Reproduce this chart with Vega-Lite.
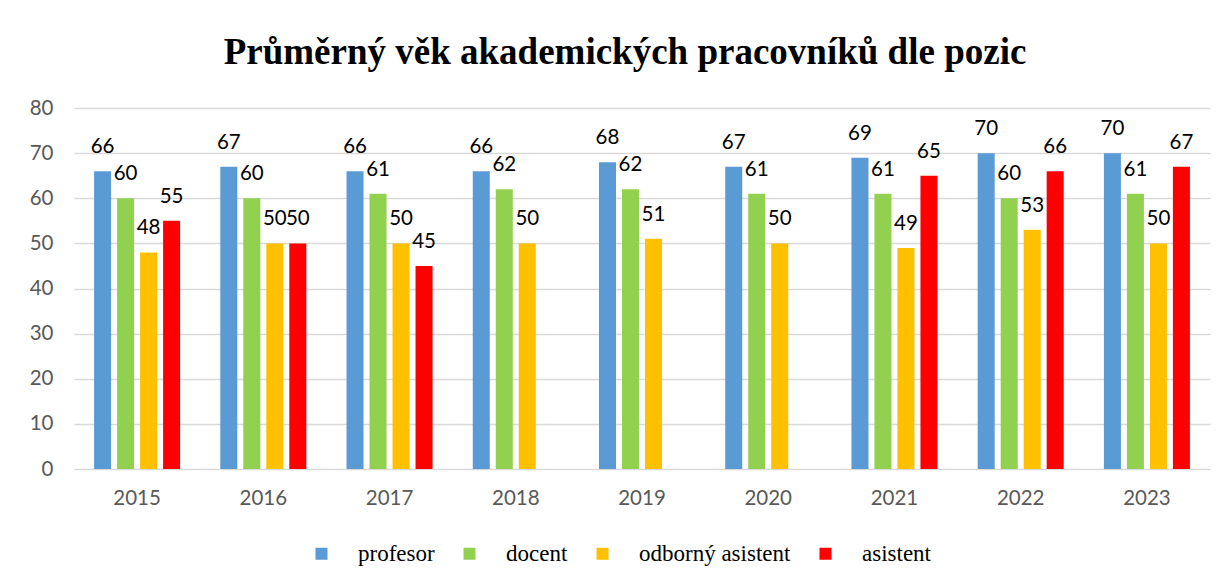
{
  "$schema": "https://vega.github.io/schema/vega-lite/v6.json",
  "width": 1136,
  "height": 361,
  "autosize": {"type": "none"},
  "padding": {"left": 74, "top": 108, "right": 18, "bottom": 113},
  "background": "white",
  "title": {
    "text": "Průměrný věk akademických pracovníků dle pozic",
    "font": "Liberation Serif",
    "fontSize": 37,
    "fontWeight": "bold",
    "color": "#000000",
    "anchor": "middle",
    "dx": -17,
    "offset": 26
  },
  "config": {
    "view": {"stroke": null},
    "axis": {"labelFont": "Lato", "labelColor": "#595959", "labelFontSize": 20.5},
    "legend": {"labelFont": "Liberation Serif", "labelFontSize": 23, "labelColor": "#000000"},
    "text": {"font": "Lato", "fontSize": 20.5, "color": "#000000"}
  },
  "data": {
    "values": [
      {"rok": "2015", "pozice": "profesor", "vek": 66},
      {"rok": "2015", "pozice": "docent", "vek": 60},
      {"rok": "2015", "pozice": "odborný asistent", "vek": 48},
      {"rok": "2015", "pozice": "asistent", "vek": 55},
      {"rok": "2016", "pozice": "profesor", "vek": 67},
      {"rok": "2016", "pozice": "docent", "vek": 60},
      {"rok": "2016", "pozice": "odborný asistent", "vek": 50},
      {"rok": "2016", "pozice": "asistent", "vek": 50},
      {"rok": "2017", "pozice": "profesor", "vek": 66},
      {"rok": "2017", "pozice": "docent", "vek": 61},
      {"rok": "2017", "pozice": "odborný asistent", "vek": 50},
      {"rok": "2017", "pozice": "asistent", "vek": 45},
      {"rok": "2018", "pozice": "profesor", "vek": 66},
      {"rok": "2018", "pozice": "docent", "vek": 62},
      {"rok": "2018", "pozice": "odborný asistent", "vek": 50},
      {"rok": "2019", "pozice": "profesor", "vek": 68},
      {"rok": "2019", "pozice": "docent", "vek": 62},
      {"rok": "2019", "pozice": "odborný asistent", "vek": 51},
      {"rok": "2020", "pozice": "profesor", "vek": 67},
      {"rok": "2020", "pozice": "docent", "vek": 61},
      {"rok": "2020", "pozice": "odborný asistent", "vek": 50},
      {"rok": "2021", "pozice": "profesor", "vek": 69},
      {"rok": "2021", "pozice": "docent", "vek": 61},
      {"rok": "2021", "pozice": "odborný asistent", "vek": 49},
      {"rok": "2021", "pozice": "asistent", "vek": 65},
      {"rok": "2022", "pozice": "profesor", "vek": 70},
      {"rok": "2022", "pozice": "docent", "vek": 60},
      {"rok": "2022", "pozice": "odborný asistent", "vek": 53},
      {"rok": "2022", "pozice": "asistent", "vek": 66},
      {"rok": "2023", "pozice": "profesor", "vek": 70},
      {"rok": "2023", "pozice": "docent", "vek": 61},
      {"rok": "2023", "pozice": "odborný asistent", "vek": 50},
      {"rok": "2023", "pozice": "asistent", "vek": 67}
    ]
  },
  "encoding": {
    "x": {
      "field": "rok", "type": "nominal",
      "scale": {"paddingInner": 0.3185, "paddingOuter": 0.159},
      "axis": {"title": null, "labelAngle": 0, "domain": false, "ticks": false, "labelPadding": 19}
    },
    "xOffset": {
      "field": "pozice", "type": "nominal",
      "scale": {"domain": ["profesor", "docent", "odborný asistent", "asistent"], "paddingInner": 0.26, "paddingOuter": 0}
    },
    "y": {
      "field": "vek", "type": "quantitative",
      "scale": {"domain": [0, 80], "nice": false},
      "axis": {"title": null, "values": [0, 10, 20, 30, 40, 50, 60, 70, 80], "domain": false, "ticks": false, "labelPadding": 21, "gridColor": "#D9D9D9", "gridWidth": 1.3}
    }
  },
  "layer": [
    {
      "mark": {"type": "bar"},
      "encoding": {
        "color": {
          "field": "pozice", "type": "nominal",
          "scale": {"domain": ["profesor", "docent", "odborný asistent", "asistent"], "range": ["#5B9BD5", "#92D050", "#FFC000", "#FF0000"]},
          "legend": {
            "title": null,
            "orient": "none",
            "direction": "horizontal",
            "legendX": 236,
            "legendY": 434,
            "padding": 0,
            "symbolType": "square",
            "symbolSize": 144,
            "symbolStrokeWidth": 0,
            "labelFont": "Liberation Serif",
            "labelFontSize": 23,
            "labelColor": "#000000",
            "labelOffset": 25,
            "columnPadding": 23,
            "labelLimit": 400
          }
        }
      }
    },
    {
      "mark": {"type": "text", "baseline": "alphabetic", "dy": -18},
      "encoding": {"text": {"field": "vek", "type": "quantitative"}}
    }
  ]
}
